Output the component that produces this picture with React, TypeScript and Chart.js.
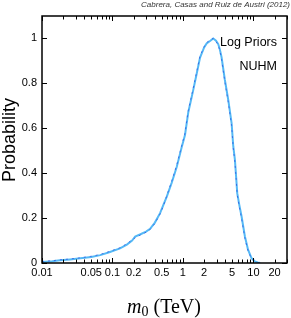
import React, { useEffect, useRef } from 'react';
import { Chart, registerables } from 'chart.js';
Chart.register(...registerables);

const massTeV = [0.01, 0.014, 0.018, 0.025, 0.035, 0.05, 0.067, 0.09, 0.128, 0.16, 0.19, 0.21, 0.25, 0.3, 0.342, 0.4, 0.474, 0.53, 0.59, 0.69, 0.82, 0.96, 1.07, 1.19, 1.4, 1.57, 1.75, 2.0, 2.17, 2.45, 2.69, 2.95, 3.17, 3.35, 3.54, 3.94, 4.4, 4.91, 5.18, 5.47, 5.7, 5.9, 6.3, 6.8, 7.58, 8.4, 9.4, 10.5, 11.5, 12.5];
const probLight = [0.005, 0.008, 0.012, 0.016, 0.021, 0.027, 0.035, 0.048, 0.065, 0.082, 0.1, 0.118, 0.128, 0.14, 0.152, 0.18, 0.222, 0.26, 0.296, 0.356, 0.43, 0.515, 0.57, 0.67, 0.77, 0.844, 0.915, 0.96, 0.978, 0.99, 1.0, 0.99, 0.975, 0.95, 0.915, 0.815, 0.726, 0.622, 0.52, 0.459, 0.38, 0.311, 0.26, 0.207, 0.118, 0.059, 0.022, 0.007, 0.002, 0];
const probDark = [0.007, 0.01, 0.014, 0.018, 0.023, 0.03, 0.038, 0.051, 0.068, 0.086, 0.103, 0.112, 0.125, 0.137, 0.149, 0.176, 0.218, 0.255, 0.3, 0.362, 0.438, 0.522, 0.578, 0.678, 0.778, 0.852, 0.922, 0.963, 0.982, 0.993, 1.0, 0.987, 0.97, 0.945, 0.906, 0.806, 0.716, 0.612, 0.512, 0.448, 0.372, 0.303, 0.252, 0.198, 0.11, 0.054, 0.019, 0.006, 0.001, 0];
const xTickLabels = [0.01, 0.05, 0.1, 0.2, 0.5, 1, 2, 5, 10, 20];
const yTickLabels = [0, 0.2, 0.4, 0.6, 0.8, 1];

const framePlugin = {
  id: 'frame',
  afterDatasetsDraw(chart: any) {
    const ctx = chart.ctx;
    const { left, right, top, bottom } = chart.chartArea;
    const xs = chart.scales.x;
    const ys = chart.scales.y;
    ctx.save();
    ctx.strokeStyle = '#000';
    ctx.lineWidth = 1;
    for (let e = -2; e <= 1; e++) {
      for (let m = 1; m <= 9; m++) {
        const v = m * Math.pow(10, e);
        if (v < 0.01 - 1e-9 || v > 30 + 1e-9) continue;
        const px = Math.round(xs.getPixelForValue(v)) + 0.5;
        const len = m === 1 ? 5 : 3.5;
        ctx.beginPath();
        ctx.moveTo(px, bottom);
        ctx.lineTo(px, bottom - len);
        ctx.moveTo(px, top);
        ctx.lineTo(px, top + len);
        ctx.stroke();
      }
    }
    for (const v of yTickLabels) {
      const py = Math.round(ys.getPixelForValue(v)) + 0.5;
      ctx.beginPath();
      ctx.moveTo(left, py);
      ctx.lineTo(left + 5, py);
      ctx.moveTo(right, py);
      ctx.lineTo(right - 5, py);
      ctx.stroke();
    }
    ctx.lineWidth = 1.5;
    ctx.strokeRect(left, top, right - left, bottom - top);

    ctx.fillStyle = '#000';
    ctx.font = '12.5px "Liberation Sans", Arial, sans-serif';
    ctx.textAlign = 'right';
    ctx.textBaseline = 'alphabetic';
    ctx.fillText('Log Priors', 277, 46);
    ctx.fillText('NUHM', 277, 70);

    ctx.fillStyle = '#333';
    ctx.font = 'italic 8px "Liberation Sans", Arial, sans-serif';
    ctx.textAlign = 'right';
    ctx.textBaseline = 'middle';
    ctx.fillText('Cabrera, Casas and Ruiz de Austri (2012)', 290, 5);

    ctx.fillStyle = '#000';
    ctx.save();
    ctx.translate(10, 140);
    ctx.rotate(-Math.PI / 2);
    ctx.font = '18px "Liberation Sans", Arial, sans-serif';
    ctx.textAlign = 'center';
    ctx.textBaseline = 'middle';
    ctx.fillText('Probability', 0, 0);
    ctx.restore();

    const baseY = 313;
    ctx.textBaseline = 'alphabetic';
    ctx.textAlign = 'left';
    const fM = 'italic 20px "Liberation Serif", "DejaVu Serif", serif';
    const fSub = '14px "Liberation Serif", "DejaVu Serif", serif';
    const fRest = '20px "Liberation Serif", "DejaVu Serif", serif';
    ctx.font = fM;
    const wM = ctx.measureText('m').width;
    ctx.font = fSub;
    const wS = ctx.measureText('0').width;
    ctx.font = fRest;
    const wR = ctx.measureText(' (TeV)').width;
    const total = wM + wS + wR;
    let x0 = 164 - total / 2;
    ctx.font = fM;
    ctx.fillText('m', x0, baseY);
    x0 += wM;
    ctx.font = fSub;
    ctx.fillText('0', x0, baseY + 3);
    x0 += wS;
    ctx.font = fRest;
    ctx.fillText(' (TeV)', x0, baseY);
    ctx.restore();
  },
};

export default function App() {
  const ref = useRef<HTMLCanvasElement | null>(null);
  useEffect(() => {
    if (!ref.current) return;
    const light = massTeV.map((x, i) => ({ x, y: probLight[i] }));
    const dark = massTeV.map((x, i) => ({ x, y: probDark[i] }));
    const chart = new Chart(ref.current, {
      type: 'line',
      data: {
        datasets: [
          {
            data: dark,
            borderColor: 'rgba(40,70,225,0.75)',
            borderWidth: 0.9,
            borderDash: [2, 4],
            pointRadius: 0,
            tension: 0,
            fill: false,
            order: 1,
          },
          {
            data: light,
            borderColor: 'rgb(85,185,245)',
            borderWidth: 2,
            pointRadius: 0,
            tension: 0,
            fill: false,
            order: 2,
          },
        ],
      },
      options: {
        animation: false,
        responsive: false,
        devicePixelRatio: 1,
        layout: { padding: { top: 16, right: 4, left: 0, bottom: 0 }, autoPadding: false },
        plugins: { legend: { display: false }, tooltip: { enabled: false } },
        scales: {
          x: {
            type: 'logarithmic',
            min: 0.01,
            max: 30,
            grid: { display: false, drawTicks: false },
            border: { display: false },
            afterBuildTicks: (s: any) => {
              s.ticks = xTickLabels.map((v) => ({ value: v }));
            },
            afterFit: (s: any) => {
              s.height = 55;
            },
            ticks: {
              autoSkip: false,
              maxRotation: 0,
              padding: 3,
              color: '#000',
              font: { family: '"Liberation Sans", Arial, sans-serif', size: 11 },
              callback: (v: any) => String(v),
            },
          },
          y: {
            type: 'linear',
            min: 0,
            max: 1.1,
            grid: { display: false, drawTicks: false },
            border: { display: false },
            afterBuildTicks: (s: any) => {
              s.ticks = yTickLabels.map((v) => ({ value: v }));
            },
            afterFit: (s: any) => {
              s.width = 42;
            },
            ticks: {
              padding: 5,
              color: '#000',
              font: { family: '"Liberation Sans", Arial, sans-serif', size: 11 },
              callback: (v: any) => String(v),
            },
          },
        },
      },
      plugins: [framePlugin],
    });
    return () => chart.destroy();
  }, []);
  return (
    <div style={{ position: 'fixed', left: 0, top: 0, width: 291, height: 318, background: '#fff' }}>
      <canvas ref={ref} width={291} height={318} style={{ width: 291, height: 318, display: 'block' }} />
    </div>
  );
}
